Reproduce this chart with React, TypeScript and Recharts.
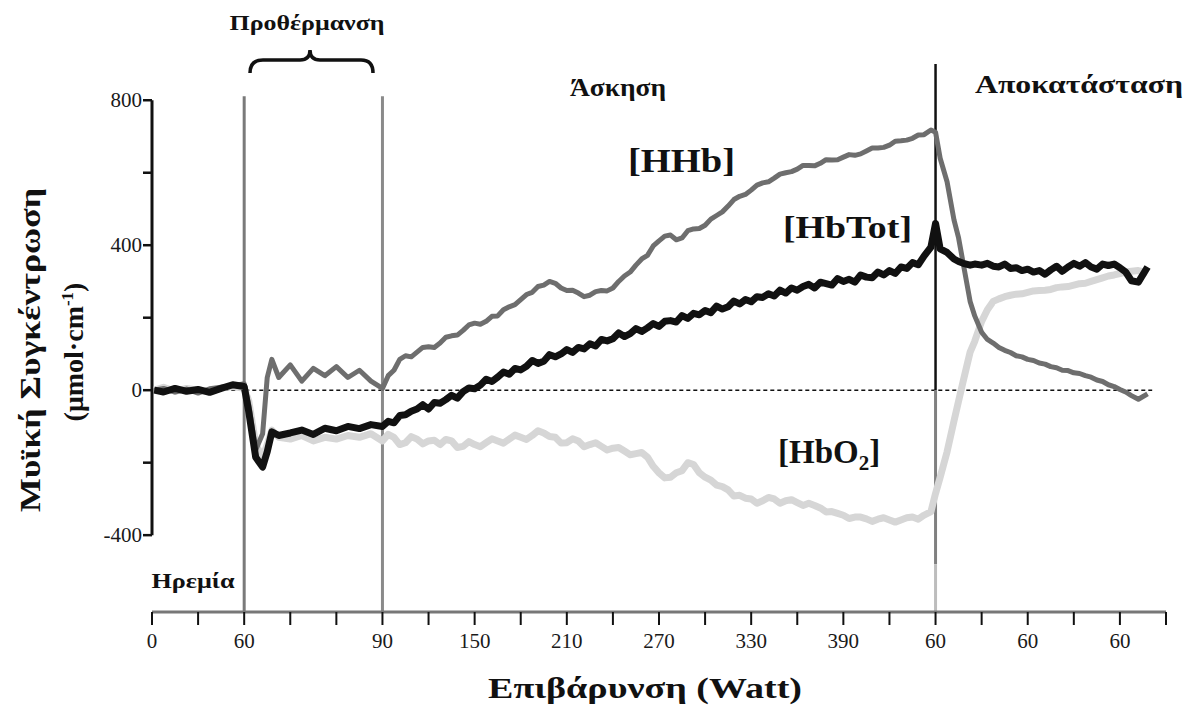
import React from 'react';
import { LineChart, Line, XAxis, YAxis, ReferenceLine } from 'recharts';

// time in axis-tick units (each tick on the x axis = one unit)
const time = [
  0.05, 0.25, 0.5, 0.75, 1, 1.25, 1.5, 1.75, 2, 2.1, 2.25, 2.4, 2.5, 2.6, 2.75,
  3, 3.25, 3.5, 3.75, 4, 4.25, 4.5, 4.75,
  5, 5.125, 5.25, 5.375, 5.5, 5.625, 5.75, 5.875,
  6, 6.125, 6.25, 6.375, 6.5, 6.625, 6.75, 6.875,
  7, 7.125, 7.25, 7.375, 7.5, 7.625, 7.75, 7.875,
  8, 8.125, 8.25, 8.375, 8.5, 8.625, 8.75, 8.875,
  9, 9.125, 9.25, 9.375, 9.5, 9.625, 9.75, 9.875,
  10, 10.125, 10.25, 10.375, 10.5, 10.625, 10.75, 10.875,
  11, 11.125, 11.25, 11.375, 11.5, 11.625, 11.75, 11.875,
  12, 12.125, 12.25, 12.375, 12.5, 12.625, 12.75, 12.875,
  13, 13.125, 13.25, 13.375, 13.5, 13.625, 13.75, 13.875,
  14, 14.125, 14.25, 14.375, 14.5, 14.625, 14.75, 14.875,
  15, 15.125, 15.25, 15.375, 15.5, 15.625, 15.75, 15.875,
  16, 16.125, 16.25, 16.375, 16.5, 16.625, 16.75,
  16.9, 17, 17.1, 17.25, 17.4, 17.5, 17.6, 17.75, 17.85,
  18, 18.125, 18.25, 18.375, 18.5, 18.625, 18.75, 18.875,
  19, 19.125, 19.25, 19.375, 19.5, 19.625, 19.75, 19.875,
  20, 20.125, 20.25, 20.375, 20.5, 20.625, 20.75, 20.875,
  21, 21.125, 21.25, 21.4, 21.6,
];

const hhb = [
  0, 5, -5, 3, -8, 4, 8, 12, 18, -40, -165, -120, 35, 85, 35,
  70, 25, 60, 40, 65, 35, 55, 25,
  5, 40, 55, 85, 95, 92, 105, 118,
  120, 118, 130, 146, 150, 152, 165, 180,
  185, 182, 190, 204, 205, 222, 230, 236,
  250, 264, 270, 286, 290, 300, 295, 282,
  275, 276, 268, 258, 262, 272, 275, 274,
  282, 300, 315, 326, 345, 362, 372, 398,
  412, 425, 428, 415, 420, 440, 445, 446,
  455, 472, 482, 492, 508, 526, 535, 540,
  552, 566, 572, 575, 585, 596, 600, 603,
  610, 620, 620, 619, 626, 636, 635, 636,
  643, 650, 648, 652, 660, 668, 668, 670,
  676, 687, 688, 690, 695, 704, 705,
  718, 712, 640, 575, 470, 420, 350, 245, 205,
  160, 140, 130, 118, 110, 104, 95, 92,
  85, 82, 75, 72, 65, 62, 55, 54,
  48, 46, 40, 36, 28, 24, 15, 10,
  2, -5, -15, -25, -10,
];

const hbTot = [
  0, -5, 5, -3, 2, -6, 5, 15, 10, -60, -185, -212, -170, -115, -125,
  -118, -110, -122, -105, -112, -100, -106, -95,
  -100, -86, -90, -70, -68, -58, -52, -40,
  -52, -34, -36, -26, -14, -22, -4, 6,
  4, 14, 30, 24, 36, 50, 44, 60,
  56, 66, 82, 74, 80, 98, 92, 100,
  112, 104, 118, 114, 128, 122, 140, 136,
  142, 158, 148, 156, 170, 162, 172, 184,
  176, 190, 192, 188, 206, 198, 212, 208,
  220, 214, 232, 224, 230, 246, 238, 250,
  244, 258, 256, 266, 260, 276, 268, 282,
  276, 286, 292, 282, 298, 294, 290, 308,
  300, 306, 298, 318, 312, 310, 326, 318,
  330, 322, 340, 336, 352, 346, 370,
  395, 460, 390, 380, 362, 355, 350, 345, 348,
  345, 350, 342, 340, 348, 336, 338, 330,
  334, 326, 330, 320, 332, 342, 328, 340,
  350, 342, 352, 340, 334, 348, 344, 348,
  338, 326, 302, 298, 340,
];

const hbO2 = [
  0, 8, -3, 5, 0, -5, 6, 10, 5, -30, -150, -185, -150, -110, -130,
  -135, -125, -140, -130, -135, -125, -130, -120,
  -140, -122, -130, -150, -145, -128, -135, -148,
  -140, -138, -150, -136, -140, -158, -155, -142,
  -150, -156, -145, -134, -140, -146, -135, -124,
  -130, -136, -125, -112, -118, -128, -130, -146,
  -145, -134, -140, -156, -150, -145, -155, -165,
  -160, -158, -168, -178, -175, -172, -185, -210,
  -228, -242, -240, -228, -222, -200, -205, -228,
  -240, -248, -262, -266, -275, -292, -290, -298,
  -300, -312, -305, -296, -300, -312, -305, -302,
  -310, -318, -312, -318, -325, -336, -335, -340,
  -345, -354, -350, -350, -355, -362, -356, -352,
  -358, -364, -358, -352, -350, -356, -345,
  -335, -285, -240, -170, -85, -30, 25, 105, 135,
  190, 222, 245, 252, 258, 262, 265, 266,
  270, 274, 275, 276, 278, 283, 285, 286,
  290, 294, 295, 300, 305, 310, 315, 318,
  322, 326, 328, 330, 325,
];

const xTicks = [0, 1, 2, 3, 4, 5, 6, 7, 8, 9, 10, 11, 12, 13, 14, 15, 16, 17, 18, 19, 20, 21, 22];
const xTickLabels = ['0', '', '60', '', '', '90', '', '150', '', '210', '', '270', '', '330', '', '390', '', '60', '', '60', '', '60', ''];
const yTicks = [-400, -200, 0, 200, 400, 600, 800];
const yTickLabels = ['-400', '', '0', '', '400', '', '800'];

const data = time.map((t, i) => ({ t, hhb: hhb[i], hbTot: hbTot[i], hbO2: hbO2[i] }));

const serif = 'Liberation Serif, DejaVu Serif, serif';

const XTick = (props: any) => {
  const { x, y, payload } = props;
  return (
    <text x={x} y={y} dy={14} textAnchor="middle" fontFamily={serif} fontSize={21} fill="#1a1a1a">
      {xTickLabels[payload.value]}
    </text>
  );
};

const YTick = (props: any) => {
  const { x, y, payload } = props;
  return (
    <text x={x + 2} y={y} dy={7} textAnchor="end" fontFamily={serif} fontSize={21} fill="#1a1a1a">
      {yTickLabels[yTicks.indexOf(payload.value)]}
    </text>
  );
};

const bold = { fontFamily: serif, fontWeight: 700 } as const;

export default function App() {
  return (
    <div style={{ position: 'absolute', left: 0, top: 0, width: 1188, height: 706, background: '#fff' }}>
      <LineChart width={1188} height={706} data={data} margin={{ top: 64, right: 22, left: 92, bottom: 54 }}>
        <XAxis
          type="number"
          dataKey="t"
          domain={[0, 22]}
          ticks={xTicks}
          interval={0}
          axisLine={{ stroke: '#777', strokeWidth: 3 }}
          tickLine={{ stroke: '#111', strokeWidth: 2 }}
          tickSize={13}
          tickMargin={9}
          height={40}
          tick={XTick}
        />
        <YAxis
          type="number"
          domain={[-612, 900]}
          ticks={yTicks}
          interval={0}
          allowDataOverflow
          axisLine={false}
          tickLine={{ stroke: '#111', strokeWidth: 2.5 }}
          tickSize={9}
          tickMargin={3}
          width={60}
          tick={YTick}
        />
        <ReferenceLine segment={[{ x: 0, y: -400 }, { x: 0, y: 800 }]} stroke="#111" strokeWidth={3} />
        <ReferenceLine segment={[{ x: 0.05, y: 0 }, { x: 21.7, y: 0 }]} stroke="#111" strokeWidth={1.5} strokeDasharray="4 3" />
        <ReferenceLine segment={[{ x: 2, y: -612 }, { x: 2, y: 811 }]} stroke="#7a7a7a" strokeWidth={3} />
        <ReferenceLine segment={[{ x: 5, y: -612 }, { x: 5, y: 811 }]} stroke="#8a8a8a" strokeWidth={3} />
        <ReferenceLine segment={[{ x: 17, y: 0 }, { x: 17, y: 900 }]} stroke="#111" strokeWidth={2.5} />
        <ReferenceLine segment={[{ x: 17, y: -480 }, { x: 17, y: 0 }]} stroke="#808080" strokeWidth={3} />
        <ReferenceLine segment={[{ x: 17, y: -612 }, { x: 17, y: -480 }]} stroke="#bdbdbd" strokeWidth={3} />
        <Line type="linear" dataKey="hbO2" stroke="#d6d6d6" strokeWidth={7} dot={false} isAnimationActive={false} strokeLinejoin="round" />
        <Line type="linear" dataKey="hhb" stroke="#6e6e6e" strokeWidth={5} dot={false} isAnimationActive={false} strokeLinejoin="round" />
        <Line type="linear" dataKey="hbTot" stroke="#111" strokeWidth={7} dot={false} isAnimationActive={false} strokeLinejoin="round" />
      </LineChart>
      <svg width={1188} height={706} style={{ position: 'absolute', left: 0, top: 0, pointerEvents: 'none' }} fill="#111">
        <text x={307} y={30} fontSize={22} textAnchor="middle" textLength={155} lengthAdjust="spacingAndGlyphs" style={bold}>Προθέρμανση</text>
        <path d="M250,73 Q250,60 263,60 L300,60 Q310,60 310,50 Q310,60 320,60 L361,60 Q373,60 373,73" fill="none" stroke="#111" strokeWidth={3.5} />
        <text x={618} y={96} fontSize={25} textAnchor="middle" textLength={96} lengthAdjust="spacingAndGlyphs" style={bold}>Άσκηση</text>
        <text x={1079} y={93} fontSize={25} textAnchor="middle" textLength={208} lengthAdjust="spacingAndGlyphs" style={bold}>Αποκατάσταση</text>
        <text x={628} y={172} fontSize={33} textLength={107} lengthAdjust="spacingAndGlyphs" style={bold}>[HHb]</text>
        <text x={783} y={238} fontSize={32} textLength={129} lengthAdjust="spacingAndGlyphs" style={bold}>[HbTot]</text>
        <text x={778} y={463} fontSize={33} style={bold}>
          [HbO<tspan fontSize={21} dy={7}>2</tspan><tspan dy={-7}>]</tspan>
        </text>
        <text x={193} y={588} fontSize={22} textAnchor="middle" textLength={83} lengthAdjust="spacingAndGlyphs" style={bold}>Ηρεμία</text>
        <text transform="translate(40,350) rotate(-90)" fontSize={30} textAnchor="middle" textLength={324} lengthAdjust="spacingAndGlyphs" style={bold}>Μυϊκή Συγκέντρωση</text>
        <text transform="translate(83,352) rotate(-90)" fontSize={28} textAnchor="middle" style={bold}>
          (μmol·cm<tspan fontSize={17} dy={-10}>-1</tspan><tspan dy={10}>)</tspan>
        </text>
        <text x={645} y={698} fontSize={30} textAnchor="middle" textLength={314} lengthAdjust="spacingAndGlyphs" style={bold}>Επιβάρυνση (Watt)</text>
      </svg>
    </div>
  );
}
